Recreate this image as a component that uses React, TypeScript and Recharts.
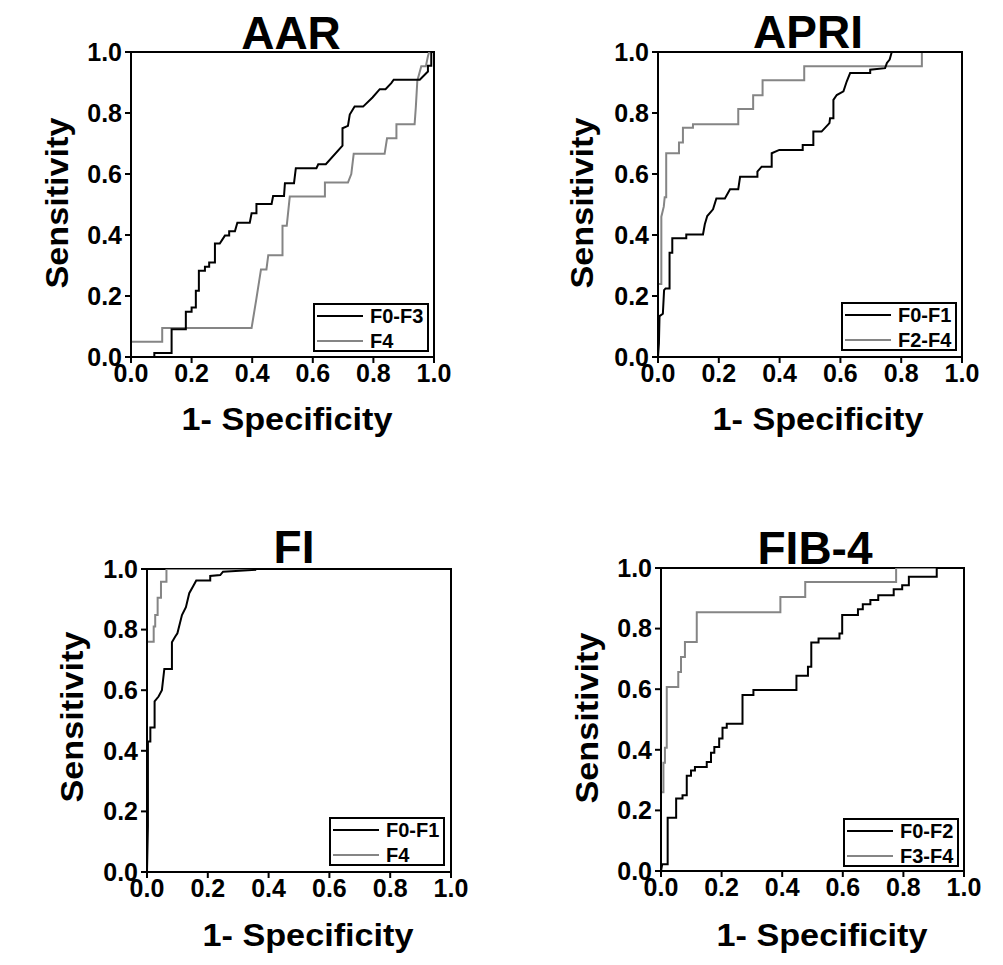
import React from 'react';
import { LineChart, Line, XAxis, YAxis, ReferenceArea, Customized } from 'recharts';

const FONT = "'Liberation Sans', Arial, Helvetica, sans-serif";
const BLACK = '#000000';
const GRAY = '#858585';

const axisTicks = [0, 0.2, 0.4, 0.6, 0.8, 1.0];
const xAxisTitle = '1- Specificity';
const yAxisTitle = 'Sensitivity';

// ---------- AAR ----------
const aarTitle = 'AAR';
const aarNames = ['F0-F3', 'F4'];
const aarF0F3: number[][] = [
  [0, 0], [0.077, 0], [0.077, 0.013], [0.134, 0.013], [0.134, 0.091], [0.181, 0.091], [0.181, 0.148],
  [0.2, 0.148], [0.2, 0.162], [0.214, 0.162], [0.214, 0.217], [0.224, 0.217], [0.224, 0.283],
  [0.244, 0.283], [0.244, 0.296], [0.258, 0.296], [0.258, 0.31], [0.277, 0.31], [0.277, 0.372],
  [0.293, 0.372], [0.31, 0.398], [0.324, 0.398], [0.324, 0.412], [0.343, 0.412], [0.351, 0.44],
  [0.392, 0.44], [0.398, 0.471], [0.414, 0.471], [0.414, 0.502], [0.464, 0.502], [0.469, 0.528],
  [0.505, 0.528], [0.508, 0.57], [0.538, 0.57], [0.544, 0.619], [0.612, 0.619], [0.618, 0.632],
  [0.643, 0.632], [0.698, 0.693], [0.698, 0.75], [0.716, 0.758], [0.722, 0.795], [0.738, 0.821],
  [0.766, 0.821], [0.797, 0.851], [0.821, 0.878], [0.84, 0.878], [0.859, 0.898], [0.867, 0.909],
  [0.953, 0.909], [0.98, 0.936], [0.98, 0.955], [0.991, 0.955], [0.991, 1], [1, 1],
];
const aarF4: number[][] = [
  [0, 0], [0, 0.05], [0.103, 0.05], [0.103, 0.095], [0.398, 0.095], [0.414, 0.192], [0.429, 0.287],
  [0.447, 0.287], [0.453, 0.334], [0.5, 0.334], [0.5, 0.43], [0.514, 0.43], [0.524, 0.526],
  [0.64, 0.526], [0.64, 0.572], [0.716, 0.572], [0.727, 0.6], [0.735, 0.666], [0.837, 0.666],
  [0.845, 0.717], [0.876, 0.717], [0.876, 0.763], [0.936, 0.763], [0.94, 0.819], [0.945, 0.906],
  [0.958, 0.953], [0.973, 0.953], [0.98, 0.986], [0.984, 1], [1, 1],
];

// ---------- APRI ----------
const apriTitle = 'APRI';
const apriNames = ['F0-F1', 'F2-F4'];
const apriF0F1: number[][] = [
  [0, 0], [0.003, 0.044], [0.005, 0.134], [0.016, 0.142], [0.02, 0.219], [0.025, 0.225],
  [0.038, 0.225], [0.038, 0.342], [0.047, 0.342], [0.047, 0.389], [0.093, 0.389], [0.093, 0.402],
  [0.148, 0.402], [0.154, 0.435], [0.162, 0.462], [0.181, 0.484], [0.192, 0.52], [0.22, 0.52],
  [0.237, 0.55], [0.264, 0.55], [0.27, 0.591], [0.327, 0.591], [0.327, 0.608], [0.341, 0.624],
  [0.374, 0.624], [0.374, 0.668], [0.399, 0.679], [0.476, 0.679], [0.476, 0.695], [0.511, 0.695],
  [0.511, 0.739], [0.538, 0.739], [0.564, 0.767], [0.566, 0.783], [0.577, 0.783], [0.577, 0.843],
  [0.588, 0.859], [0.61, 0.871], [0.621, 0.904], [0.632, 0.931], [0.698, 0.931], [0.698, 0.942],
  [0.747, 0.947], [0.753, 0.964], [0.762, 0.975], [0.769, 1], [1, 1],
];
const apriF2F4: number[][] = [
  [0, 0], [0, 0.239], [0.011, 0.239], [0.011, 0.46], [0.019, 0.493], [0.022, 0.524], [0.027, 0.524],
  [0.027, 0.668], [0.069, 0.668], [0.069, 0.703], [0.082, 0.703], [0.082, 0.752], [0.115, 0.752],
  [0.115, 0.763], [0.264, 0.763], [0.264, 0.813], [0.313, 0.813], [0.313, 0.858], [0.344, 0.858],
  [0.344, 0.907], [0.481, 0.907], [0.481, 0.953], [0.868, 0.953], [0.868, 1], [1, 1],
];

// ---------- FI ----------
const fiTitle = 'FI';
const fiNames = ['F0-F1', 'F4'];
const fiF0F1: number[][] = [
  [0, 0], [0.003, 0.15], [0.003, 0.431], [0.011, 0.431], [0.011, 0.477], [0.025, 0.477],
  [0.025, 0.563], [0.038, 0.579], [0.049, 0.6], [0.057, 0.67], [0.082, 0.67], [0.082, 0.758],
  [0.093, 0.777], [0.1, 0.788], [0.115, 0.848], [0.128, 0.874], [0.139, 0.92], [0.154, 0.947],
  [0.162, 0.962], [0.208, 0.962], [0.208, 0.977], [0.241, 0.98], [0.25, 0.991], [0.356, 0.997],
  [0.356, 1], [1, 1],
];
const fiF4: number[][] = [
  [0, 0], [0, 0.76], [0.022, 0.76], [0.022, 0.81], [0.027, 0.81], [0.027, 0.848], [0.035, 0.848],
  [0.035, 0.905], [0.046, 0.905], [0.046, 0.958], [0.064, 0.958], [0.064, 1], [1, 1],
];

// ---------- FIB-4 ----------
const fibTitle = 'FIB-4';
const fibNames = ['F0-F2', 'F3-F4'];
const fibF0F2: number[][] = [
  [0, 0], [0.004, 0.022], [0.022, 0.022], [0.022, 0.176], [0.05, 0.176], [0.05, 0.239],
  [0.071, 0.239], [0.071, 0.25], [0.085, 0.25], [0.085, 0.314], [0.099, 0.314], [0.099, 0.332],
  [0.112, 0.332], [0.112, 0.343], [0.151, 0.343], [0.151, 0.36], [0.165, 0.36], [0.165, 0.39],
  [0.176, 0.39], [0.176, 0.409], [0.192, 0.409], [0.192, 0.437], [0.203, 0.437], [0.203, 0.473],
  [0.217, 0.473], [0.217, 0.486], [0.269, 0.486], [0.269, 0.581], [0.305, 0.581], [0.305, 0.597],
  [0.447, 0.597], [0.447, 0.644], [0.485, 0.644], [0.485, 0.674], [0.496, 0.674], [0.496, 0.754],
  [0.52, 0.754], [0.52, 0.767], [0.589, 0.767], [0.589, 0.784], [0.598, 0.784], [0.598, 0.845],
  [0.65, 0.845], [0.65, 0.864], [0.666, 0.864], [0.666, 0.88], [0.691, 0.88], [0.691, 0.894],
  [0.717, 0.894], [0.717, 0.91], [0.768, 0.91], [0.768, 0.93], [0.796, 0.93], [0.796, 0.943],
  [0.818, 0.943], [0.818, 0.971], [0.91, 0.971], [0.91, 1], [1, 1],
];
const fibF3F4: number[][] = [
  [0, 0], [0, 0.26], [0.008, 0.26], [0.008, 0.357], [0.013, 0.357], [0.013, 0.407], [0.019, 0.407],
  [0.019, 0.607], [0.057, 0.607], [0.057, 0.657], [0.066, 0.657], [0.066, 0.706], [0.079, 0.706],
  [0.079, 0.756], [0.118, 0.756], [0.118, 0.854], [0.394, 0.854], [0.394, 0.904], [0.476, 0.904],
  [0.476, 0.954], [0.776, 0.954], [0.776, 1], [1, 1],
];

const toPoints = (arr: number[][]) => arr.map(([x, y]) => ({ x, y }));

type Layout = {
  left: number; top: number; width: number; height: number;
  plotLeft: number; plotTop: number; plotRight: number; plotBottom: number;
  titleX: number; titleY: number;
  xLabelX: number; xLabelY: number;
  yLabelX: number; yLabelY: number;
  legendX: number; legendY: number;
};

const Y_AXIS_W = 60;
const X_AXIS_H = 40;

function Overlay({ title, names, L }: { title: string; names: string[]; L: Layout }) {
  const ox = L.left;
  const oy = L.top;
  return (
    <g>
      <text x={L.titleX - ox} y={L.titleY - oy} textAnchor="middle" fontSize={46} fontWeight={700} fontFamily={FONT} fill={BLACK}>
        {title}
      </text>
      <text x={L.xLabelX - ox} y={L.xLabelY - oy} textAnchor="middle" fontSize={31} fontWeight={700} fontFamily={FONT} fill={BLACK}
        textLength={211} lengthAdjust="spacingAndGlyphs">
        {xAxisTitle}
      </text>
      <text transform={`translate(${L.yLabelX - ox},${L.yLabelY - oy}) rotate(-90)`} x={0} y={0} textAnchor="middle" fontSize={31}
        fontWeight={700} fontFamily={FONT} fill={BLACK} textLength={171} lengthAdjust="spacingAndGlyphs">
        {yAxisTitle}
      </text>
      <g transform={`translate(${L.legendX - ox},${L.legendY - oy})`}>
        <rect x={1} y={1} width={114} height={47} fill="#fff" stroke={BLACK} strokeWidth={2} />
        <line x1={4} x2={50} y1={13} y2={13} stroke={BLACK} strokeWidth={2} />
        <text x={57} y={20} fontSize={20} fontWeight={700} fontFamily={FONT} fill={BLACK}>{names[0]}</text>
        <line x1={4} x2={50} y1={38} y2={38} stroke={GRAY} strokeWidth={2} />
        <text x={57} y={45} fontSize={20} fontWeight={700} fontFamily={FONT} fill={BLACK}>{names[1]}</text>
      </g>
    </g>
  );
}

function Panel({ title, names, s1, s2, L }: { title: string; names: string[]; s1: number[][]; s2: number[][]; L: Layout }) {
  const margin = {
    left: L.plotLeft - L.left - Y_AXIS_W,
    top: L.plotTop - L.top,
    right: L.left + L.width - L.plotRight,
    bottom: L.top + L.height - L.plotBottom - X_AXIS_H,
  };
  const tickStyle = { fill: BLACK, fontSize: 25, fontWeight: 700, fontFamily: FONT };
  return (
    <div style={{ position: 'absolute', left: L.left, top: L.top, width: L.width, height: L.height }}>
      <LineChart width={L.width} height={L.height} margin={margin}>
        <XAxis type="number" dataKey="x" domain={[0, 1]} ticks={axisTicks} allowDataOverflow
          tickFormatter={(v: number) => v.toFixed(1)} height={X_AXIS_H} tick={tickStyle}
          axisLine={{ stroke: BLACK, strokeWidth: 2 }} tickLine={{ stroke: BLACK, strokeWidth: 2 }} tickSize={6} tickMargin={1}
          interval={0} />
        <YAxis type="number" domain={[0, 1]} ticks={axisTicks} allowDataOverflow
          tickFormatter={(v: number) => v.toFixed(1)} width={Y_AXIS_W} tick={tickStyle}
          axisLine={{ stroke: BLACK, strokeWidth: 2 }} tickLine={{ stroke: BLACK, strokeWidth: 2 }} tickSize={6} tickMargin={3}
          interval={0} />
        <Line data={toPoints(s2)} dataKey="y" type="linear" stroke={GRAY} strokeWidth={2} dot={false} activeDot={false} isAnimationActive={false} name={names[1]} />
        <Line data={toPoints(s1)} dataKey="y" type="linear" stroke={BLACK} strokeWidth={2} dot={false} activeDot={false} isAnimationActive={false} name={names[0]} />
        <ReferenceArea x1={0} x2={1} y1={0} y2={1} fill="none" fillOpacity={0} stroke={BLACK} strokeWidth={2} ifOverflow="visible" />
        <Customized component={<Overlay title={title} names={names} L={L} />} />
      </LineChart>
    </div>
  );
}

const layoutAAR: Layout = {
  left: 0, top: 0, width: 490, height: 480,
  plotLeft: 131, plotTop: 52, plotRight: 434, plotBottom: 357,
  titleX: 291, titleY: 49, xLabelX: 287, xLabelY: 430, yLabelX: 68, yLabelY: 203,
  legendX: 313, legendY: 303,
};
const layoutAPRI: Layout = {
  left: 500, top: 0, width: 503, height: 480,
  plotLeft: 658, plotTop: 52, plotRight: 962, plotBottom: 357,
  titleX: 808, titleY: 48, xLabelX: 818, xLabelY: 430, yLabelX: 593, yLabelY: 203,
  legendX: 841, legendY: 302,
};
const layoutFI: Layout = {
  left: 0, top: 490, width: 490, height: 475,
  plotLeft: 147, plotTop: 569, plotRight: 451, plotBottom: 872,
  titleX: 294, titleY: 563, xLabelX: 308, xLabelY: 946, yLabelX: 83, yLabelY: 717,
  legendX: 329, legendY: 817,
};
const layoutFIB: Layout = {
  left: 500, top: 490, width: 503, height: 475,
  plotLeft: 661, plotTop: 568, plotRight: 964, plotBottom: 871,
  titleX: 815, titleY: 564, xLabelX: 822, xLabelY: 946, yLabelX: 598, yLabelY: 718,
  legendX: 843, legendY: 818,
};

export default function App() {
  return (
    <div style={{ position: 'absolute', left: 0, top: 0, width: 1003, height: 965, background: '#fff', overflow: 'hidden' }}>
      <Panel title={aarTitle} names={aarNames} s1={aarF0F3} s2={aarF4} L={layoutAAR} />
      <Panel title={apriTitle} names={apriNames} s1={apriF0F1} s2={apriF2F4} L={layoutAPRI} />
      <Panel title={fiTitle} names={fiNames} s1={fiF0F1} s2={fiF4} L={layoutFI} />
      <Panel title={fibTitle} names={fibNames} s1={fibF0F2} s2={fibF3F4} L={layoutFIB} />
    </div>
  );
}
